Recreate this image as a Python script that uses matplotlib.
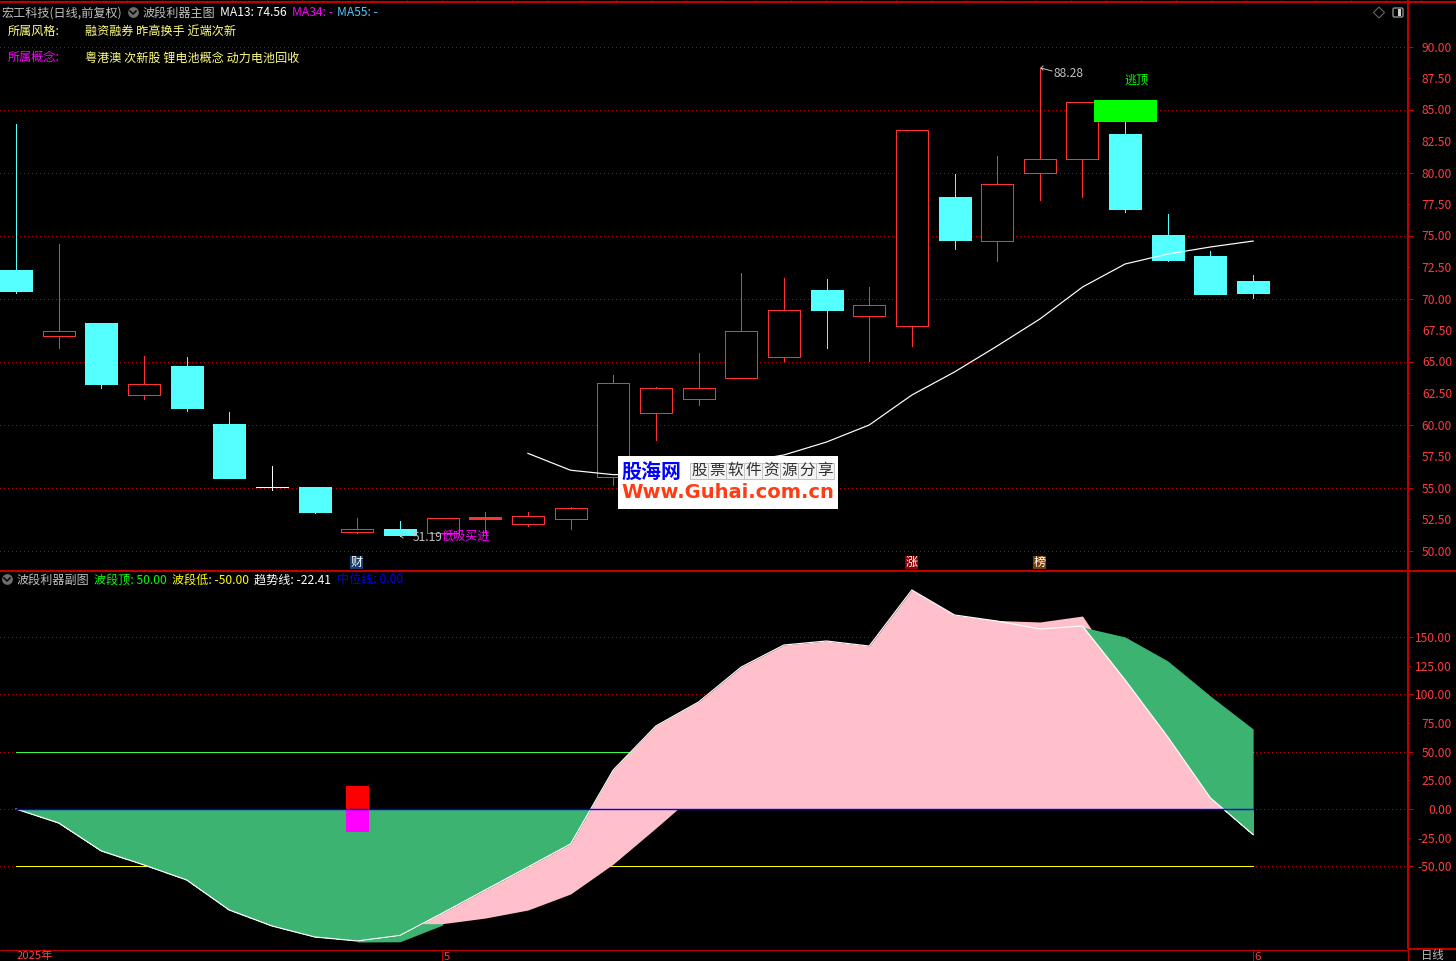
import numpy as np
import matplotlib
matplotlib.use('Agg')
import matplotlib.pyplot as plt
from matplotlib.patches import Rectangle, Polygon, FancyBboxPatch

plt.rcParams['font.family'] = ['Noto Sans CJK SC', 'DejaVu Sans']
plt.rcParams['axes.unicode_minus'] = False

# candles
opens = [72.26, 67.05, 68.06, 62.36, 64.64, 60.04, 55.02, 55.04, 51.49, 51.71,
         51.41, 52.52, 52.13, 52.52, 55.86, 60.94, 62.00, 63.67, 65.38, 70.67,
         68.63, 67.84, 78.06, 74.59, 79.98, 81.05, 83.06, 75.04, 73.37, 71.39]
closes = [70.60, 67.40, 63.21, 63.19, 61.31, 55.75, 55.02, 53.06, 51.68, 51.23,
          52.56, 52.66, 52.71, 53.35, 63.27, 62.87, 62.87, 67.40, 69.11, 69.08,
          69.46, 83.35, 74.64, 79.06, 81.05, 85.57, 77.10, 73.06, 70.36, 70.44]
highs = [83.85, 74.33, 68.06, 65.44, 65.36, 60.99, 56.71, 55.04, 52.58, 52.34,
         52.56, 53.06, 53.06, 53.45, 63.93, 62.98, 65.65, 72.00, 71.60, 71.55,
         70.91, 83.35, 79.88, 81.31, 88.28, 85.57, 84.01, 76.71, 73.77, 71.87]
lows = [70.46, 66.10, 62.92, 62.05, 61.10, 55.75, 54.83, 53.00, 51.39, 51.19,
        51.41, 51.49, 51.97, 51.73, 55.20, 58.77, 61.55, 63.67, 65.04, 66.10,
        65.04, 66.25, 73.93, 73.00, 77.84, 78.08, 76.87, 72.98, 70.36, 70.04]
ma13 = [57.71, 56.37, 56.02, 56.07, 56.39, 57.02, 57.58, 58.61, 59.96, 62.34,
        64.17, 66.23, 68.37, 70.91, 72.74, 73.53, 74.09, 74.56]
ma13_start = 12
top_signal = (26, 84.01, 85.75)

# lower panel
trend = [0, -12.2, -36.6, -48.8, -61.9, -88.1, -102.0, -111.6, -115.1, -110.3,
         -90.7, -70.6, -50.6, -30.5, 34.0, 72.4, 93.3, 123.8, 143.0, 146.5,
         142.1, 191.0, 169.2, 163.9, 157.0, 159.6, 112.5, 62.8, 9.6, -22.41]
slow = [0, -8, -22, -35, -48, -65, -82, -98, -116.0, -115.8,
        -101.2, -95.1, -88.1, -74.1, -48.0, -16.6, 15.7, 42.7, 73.3, 99.4,
        119.5, 138.7, 157.8, 164.4, 163.1, 168.3, 150.0, 129.1, 98.5, 69.8]
green_edge = [158.7, 150.0, 129.1, 98.5, 69.8]
pink_floor = -100.0
band_top = 50
band_low = -50
flag_idx = 8
flag_size = 20

main_major = [90, 85, 80, 75, 70, 65, 60, 55, 50]
main_minor = [87.5, 82.5, 77.5, 72.5, 67.5, 62.5, 57.5, 52.5]
sub_major = [150, 100, 50, 0, -50]
sub_minor = [125, 75, 25, -25]

W, H = 1456, 961
STEP = 42.66      # pixels per candle
X0 = 16           # pixel of candle 0
BG = 'black'
DARKRED = '#C00000'
RED = '#FF3232'
CYAN = '#54FFFF'
PINK = '#FFC0CB'
GREEN = '#3CB371'
GREY = '#C0C0C0'
PX = 0.72
FS = 8.7


def panel(top, bottom):
    a = fig.add_axes([0, 1 - bottom / H, 1408 / W, (bottom - top) / H])
    a.set_facecolor(BG)
    a.set_xlim(-X0 / STEP, (1408 - X0) / STEP)
    a.set_xticks([])
    for s in a.spines.values():
        s.set_visible(False)
    a.yaxis.tick_right()
    a.tick_params(axis='y', which='major', length=3.6, width=PX, color=DARKRED,
                  labelcolor='#FF3C3C', labelsize=FS, pad=28.1)
    a.tick_params(axis='y', which='minor', length=1.6, width=PX, color=DARKRED,
                  labelcolor='#FF3C3C', labelsize=FS, pad=30.1)
    return a


def set_ticks(a, major, minor):
    a.set_yticks(major)
    a.set_yticklabels(['%.2f' % v for v in major], ha='right')
    a.set_yticks(minor, minor=True)
    a.set_yticklabels(['%.2f' % v for v in minor], minor=True, ha='right')
    for v in major:
        a.axhline(v, color=DARKRED, lw=PX, ls=(0, (1, 4)), zorder=0, antialiased=False)


fig = plt.figure(figsize=(W / 100, H / 100), dpi=100, facecolor=BG)

# ---- price panel
ax = panel(3, 570)
ax.set_ylim(90 - (570 - 46.5) / 12.6, 90 + (46.5 - 3) / 12.6)
set_ticks(ax, main_major, main_minor)

x = np.arange(len(opens))
opens = np.array(opens)
closes = np.array(closes)
body_w = 32 / STEP
for i in x:
    if closes[i] > opens[i]:
        col, face = RED, BG
        if closes[i] - opens[i] < 0.15:
            face = RED
    elif closes[i] < opens[i]:
        col, face = CYAN, CYAN
    else:
        col, face = 'white', 'white'
    ax.vlines(i, lows[i], highs[i], color=col, lw=PX, zorder=2, antialiased=False)
    ax.bar(i, abs(closes[i] - opens[i]), bottom=min(opens[i], closes[i]), width=body_w,
           facecolor=face, edgecolor=col, lw=PX, zorder=3, antialiased=False)

ax.plot(x[ma13_start:], ma13, color='white', lw=PX * 1.2, zorder=4)
ax.bar(top_signal[0], top_signal[2] - top_signal[1], bottom=top_signal[1], width=63 / STEP,
       color='#00FF00', lw=0, zorder=5, antialiased=False)

# ---- indicator panel
sub = panel(571, 949)
sub.set_ylim((809 - 949) / 1.1467, (809 - 571) / 1.1467)
set_ticks(sub, sub_major, sub_minor)

trend = np.array(trend)
slow = np.array(slow)
sub.hlines(band_top, 0, x[-1], color='#3CFF3C', lw=PX, zorder=1, antialiased=False)
sub.hlines(band_low, 0, x[-1], color='#FFFF00', lw=PX, zorder=1, antialiased=False)

# green under the zero line and under the trend on the left
sub.fill_between(x, trend, 0, where=trend < 0, interpolate=True, color=GREEN, lw=0, zorder=2, antialiased=False)
sub.fill_between(x, trend, slow, where=(x >= 8) & (x <= 10), color=GREEN, lw=0, zorder=2, antialiased=False)

# pink band
lower = np.maximum(slow, pink_floor)
mask = (x >= 9) & (x <= 16) & (trend > lower)
sub.fill_between(x, trend, lower, where=mask, interpolate=True, color=PINK, lw=0, zorder=3, antialiased=False)
upper = np.where(x <= 25, np.maximum(trend, slow), trend)
sub.fill_between(x, upper, 0, where=upper > 0, interpolate=True, color=PINK, lw=0, zorder=3, antialiased=False)

# green on the right
sub.fill_between(x[25:], trend[25:], green_edge, color=GREEN, lw=0, zorder=4, antialiased=False)

sub.bar(flag_idx, flag_size, bottom=0, width=23 / STEP, color='#FF0000', lw=0, zorder=5, antialiased=False)
sub.bar(flag_idx, -flag_size, bottom=0, width=23 / STEP, color='#FF00FF', lw=0, zorder=5, antialiased=False)
sub.plot(x, trend, color='white', lw=PX * 1.2, zorder=6)
sub.plot([x[0], x[-1]], [0, 0], color='#0000FF', lw=1.0, zorder=7)

# ---- overlay in pixel coordinates: frame, headers, logo
ov = fig.add_axes([0, 0, 1, 1], facecolor='none')
ov.set_xlim(0, W)
ov.set_ylim(H, 0)
ov.axis('off')

ov.hlines(2, 0, W, color=DARKRED, lw=1.5)
ov.hlines(570.5, 0, W, color=DARKRED, lw=1.5)
ov.hlines(949.5, 0, 1408, color=DARKRED, lw=PX)
ov.hlines(949, 1408, W, color=DARKRED, lw=1.5)
ov.vlines(1408, 0, 949, color=DARKRED, lw=1.5)
ov.vlines(1408, 949, H, color=DARKRED, lw=PX)
ov.vlines(np.arange(22, 1456, 34.97), 0, 2, color=DARKRED, lw=PX)
ov.vlines([442, 1253], 950, H, color=DARKRED, lw=PX)


def label(px, py, s, color, size=FS, **kw):
    ov.text(px, py + 0.8, s, color=color, fontsize=size, va='center', ha=kw.pop('ha', 'left'), **kw)


def fold_icon(px, py):
    ov.scatter([px], [py], s=60, color='#6E6E6E', lw=0)
    ov.plot([px - 3, px, px + 3], [py - 1, py + 2, py - 1], color='black', lw=1.1)


label(2, 12, '宏工科技(日线,前复权)', GREY)
fold_icon(133, 12)
label(143, 12, '波段利器主图', GREY)
label(220, 12, 'MA13: 74.56', 'white')
label(292, 12, 'MA34: -', '#FF00FF')
label(337, 12, 'MA55: -', '#54C8FF')
label(8, 31, '所属风格:', '#FFFF80')
label(85, 31, '融资融券 昨高换手 近端次新', '#FFFF80')
label(8, 57, '所属概念:', '#FF00FF')
label(85, 57, '粤港澳 次新股 锂电池概念 动力电池回收', '#FFFF80')

fold_icon(7, 579)
label(17, 579, '波段利器副图', GREY)
label(94, 579, '波段顶: 50.00', '#00FF00')
label(172, 579, '波段低: -50.00', '#FFFF00')
label(254, 579, '趋势线: -22.41', 'white')
label(337, 579, '中位线: 0.00', '#0000FF')

# top right buttons
ov.add_patch(Polygon([(1379, 7), (1384.5, 12.5), (1379, 18), (1373.5, 12.5)], fill=False, ec='#707070', lw=PX))
ov.add_patch(FancyBboxPatch((1393, 8), 10, 9, boxstyle='round,pad=0,rounding_size=1.5', fc=BG, ec='#8C8C8C', lw=1))
ov.add_patch(Rectangle((1398, 9), 3, 7, color='#D0D0D0', lw=0))

# price notes
ov.plot([1041, 1052], [68, 71], color=GREY, lw=PX)
ov.plot([1043, 1041, 1043], [66, 68, 70], color=GREY, lw=PX)
label(1054, 73, '88.28', GREY)
label(1124, 79, '逃顶', '#00FF00')
ov.plot([400, 411], [535, 535], color=GREY, lw=PX)
ov.plot([403, 400, 403], [533, 535, 538], color=GREY, lw=PX)
label(413, 537, '51.19', GREY)
label(442, 536, '低吸买进', '#FF00FF')

# event boxes
for bx, txt, col in [(350, '财', '#143C6E'), (905, '涨', '#8B0000'), (1033, '榜', '#7A3C00')]:
    ov.add_patch(Rectangle((bx, 556), 13, 13, color=col, lw=0))
    label(bx + 6.5, 562, txt, 'white', ha='center')

# bottom date row
ov.text(17, 959.5, '2025年', color='#FF3C3C', fontsize=8.2, va='baseline')
ov.text(444, 959.5, '5', color='#FF3C3C', fontsize=8.2, va='baseline')
ov.text(1254, 959.5, '6', color='#FF3C3C', fontsize=8.2, va='baseline')
ov.text(1421, 959.5, '日线', color=GREY, fontsize=8.2, va='baseline')

# watermark
ov.add_patch(Rectangle((618, 456), 220, 53, color='white', lw=0, zorder=10))
ov.text(621, 471, '股海网', color='#0000FF', fontsize=14.4, fontweight='bold', va='center', zorder=11)
for k, ch in enumerate('股票软件资源分享'):
    ov.add_patch(Rectangle((690 + 18 * k, 463), 18, 16, fc='#F4F4F4', ec='#C4C4C4', lw=PX, zorder=11))
    ov.text(699 + 18 * k, 470.5, ch, color='#303030', fontsize=11.2, ha='center', va='center', zorder=12)
ov.text(621, 493, 'Www.Guhai.com.cn', color='#FF3C14', fontsize=14, fontweight='bold',
        family='DejaVu Sans', va='center', zorder=11)

fig.savefig('out.png', dpi=100, facecolor=BG)
